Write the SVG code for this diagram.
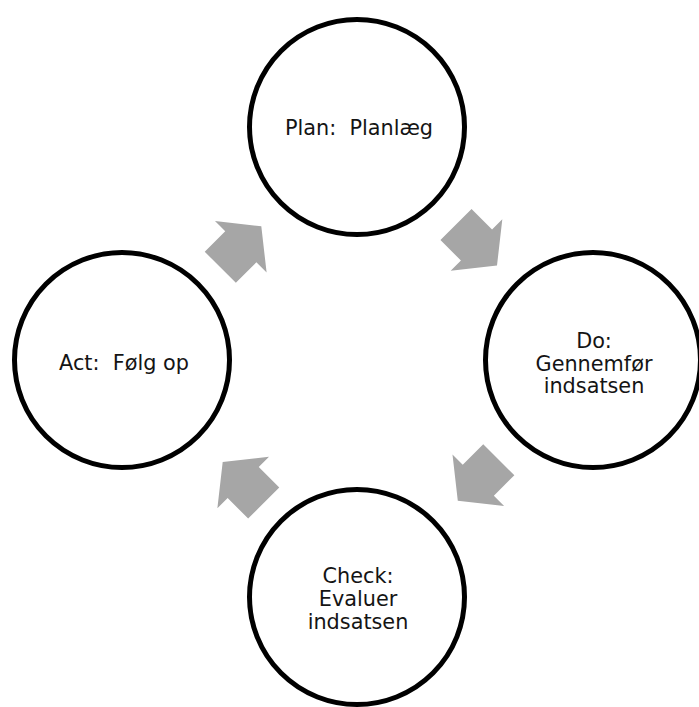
<svg xmlns="http://www.w3.org/2000/svg" width="699" height="707" viewBox="0 0 699 707">
<style>
.node circle{fill:#fff;stroke:#000;stroke-width:5}
.node text{font-family:"DejaVu Sans","Liberation Sans",sans-serif;font-size:20.8px;fill:#141414;text-anchor:middle}
.arrow{fill:#a6a6a6}
</style>
<defs>
<path id="arr" d="M-29,-22 L0,-22 L0,-36.5 L29,0 L0,36.5 L0,22 L-29,22 Z"/>
</defs>
<g id="connectors">
<use href="#arr" class="arrow" transform="translate(476.5,245) rotate(45)"/>
<use href="#arr" class="arrow" transform="translate(478.3,480.2) rotate(135)"/>
<use href="#arr" class="arrow" transform="translate(243.2,482.5) rotate(225)"/>
<use href="#arr" class="arrow" transform="translate(240.8,246.8) rotate(-45)"/>
</g>
<g id="plan" class="node">
<circle cx="357" cy="127" r="107.5"/>
<text x="359" y="135" xml:space="preserve">Plan:  Planlæg</text>
</g>
<g id="do" class="node">
<circle cx="593" cy="360" r="107.5"/>
<text x="594" y="348">Do:</text>
<text x="594" y="370.5">Gennemfør</text>
<text x="594" y="393">indsatsen</text>
</g>
<g id="check" class="node">
<circle cx="357" cy="597" r="107.5"/>
<text x="358" y="583">Check:</text>
<text x="358" y="606">Evaluer</text>
<text x="358" y="629">indsatsen</text>
</g>
<g id="act" class="node">
<circle cx="122" cy="360" r="107.5"/>
<text x="124" y="370" xml:space="preserve">Act:  Følg op</text>
</g>
</svg>
